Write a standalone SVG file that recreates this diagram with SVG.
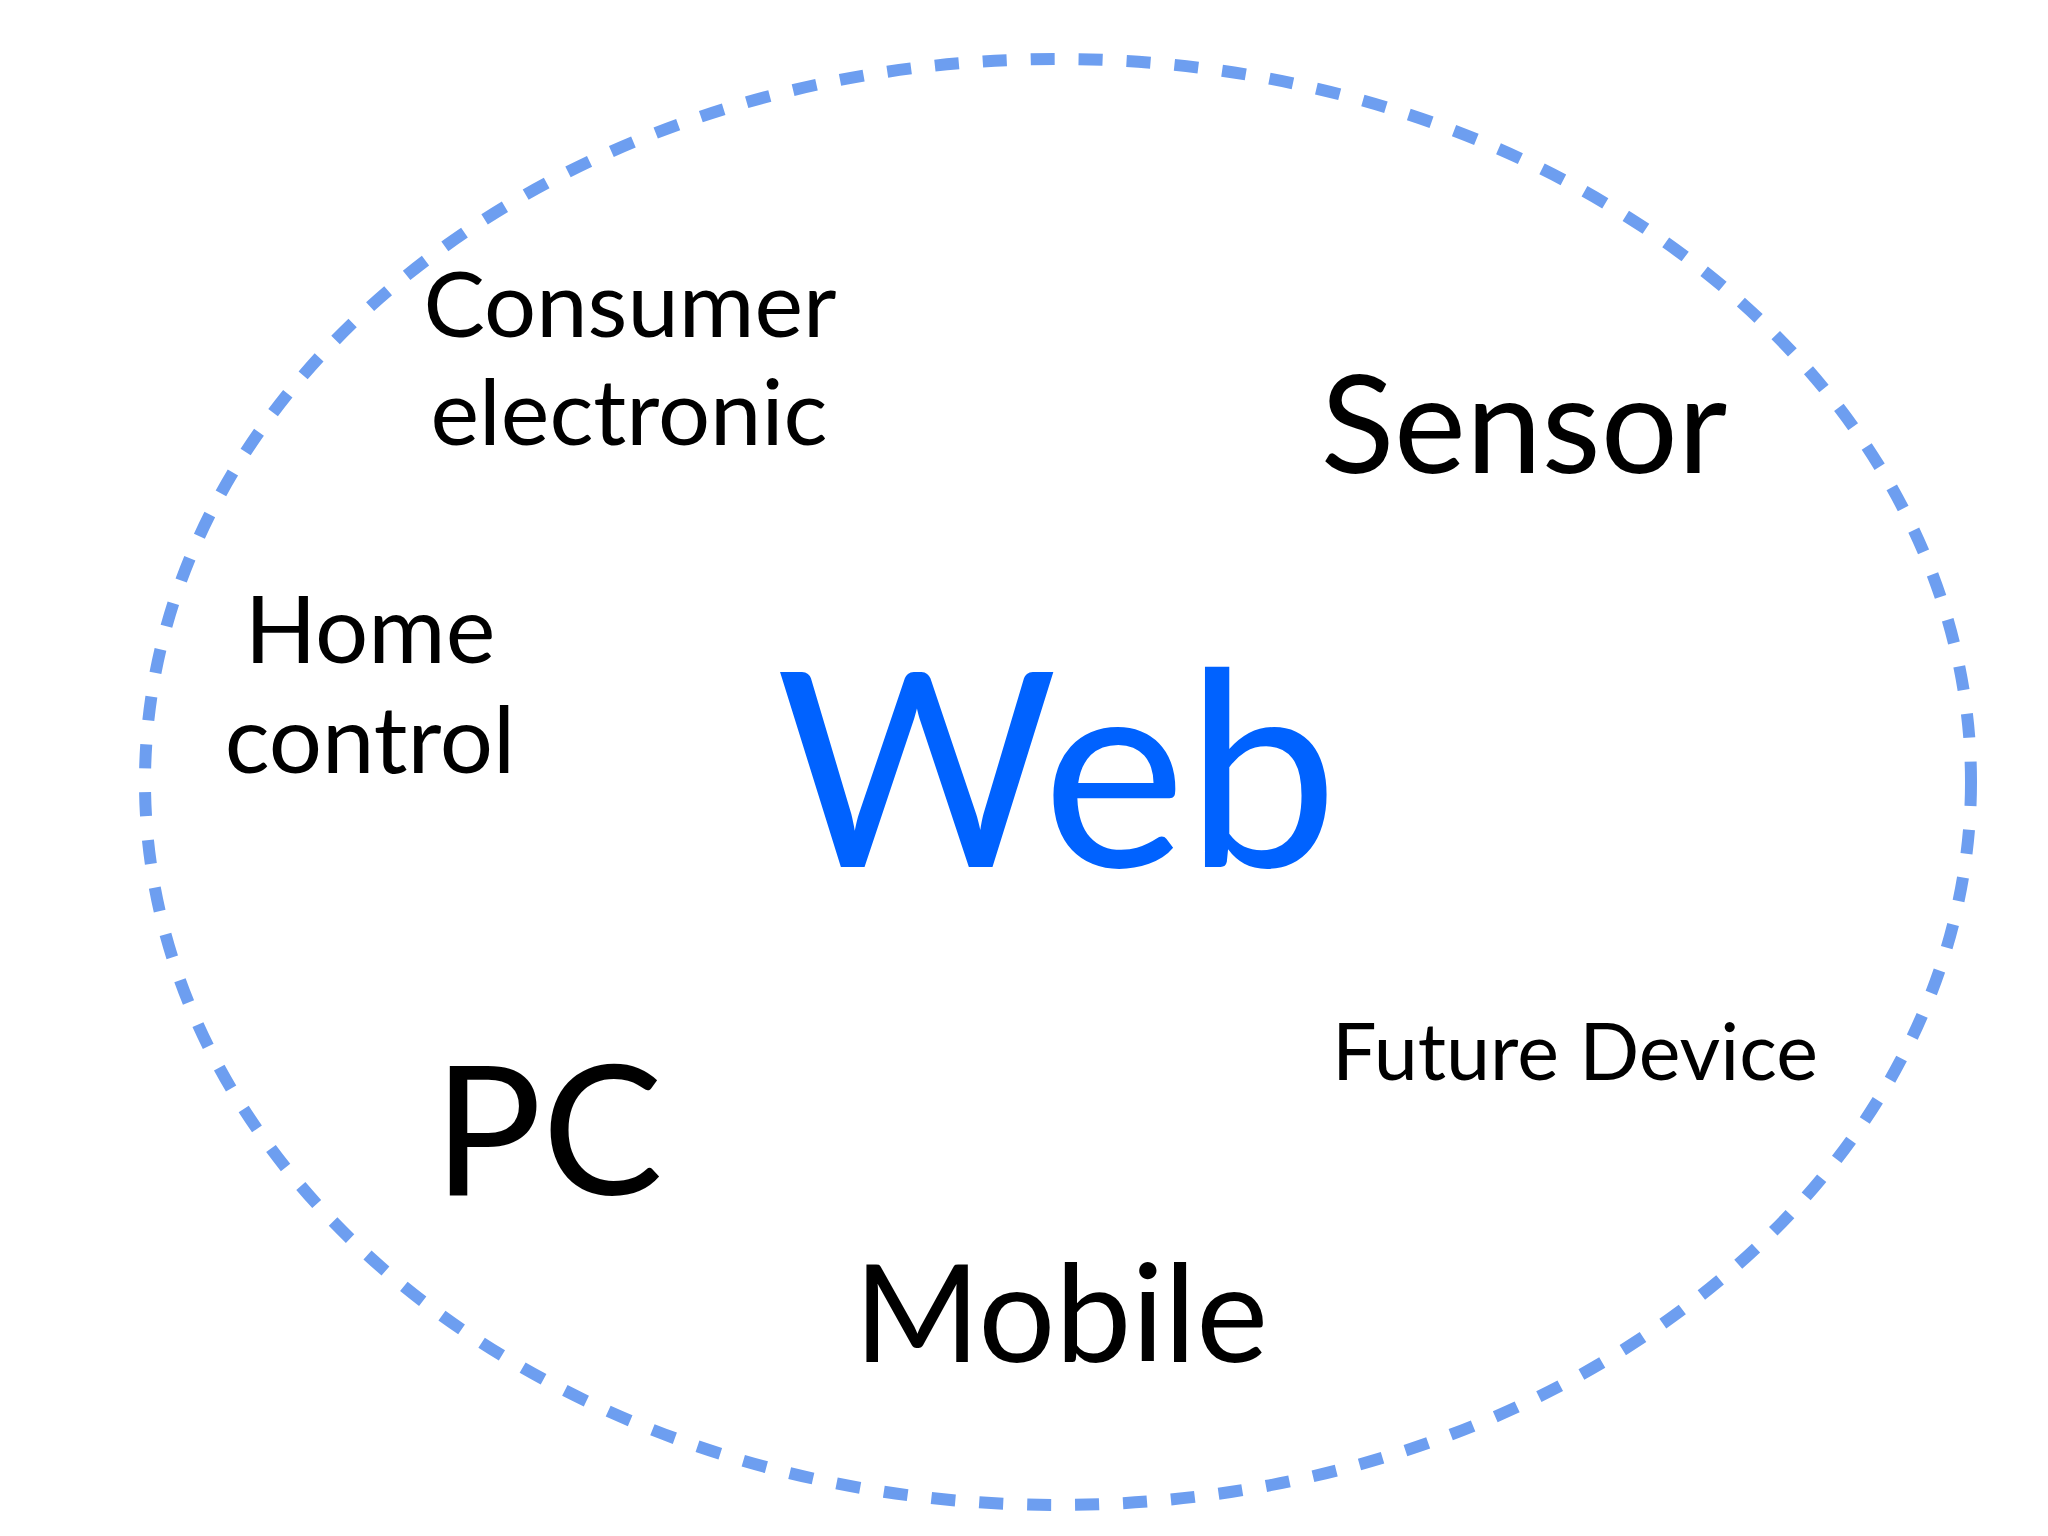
<svg xmlns="http://www.w3.org/2000/svg" width="2048" height="1536" viewBox="0 0 2048 1536">
<style>
.t{font-family:Lato,"Open Sans","Liberation Sans",sans-serif;fill:#000;text-anchor:middle}
.web{fill:#0062ff}
.ring{fill:none;stroke:#6d9ef0;stroke-width:12;stroke-dasharray:24 24}
</style>
<rect width="2048" height="1536" fill="#fff"/>
<g id="boundary"><ellipse class="ring" cx="1058" cy="782" rx="913" ry="723"/></g>
<g id="web"><text class="t web" x="1057" y="867" font-size="272">Web</text></g>
<g id="consumer-electronic"><text class="t" x="630" y="337" font-size="92">Consumer</text><text class="t" x="629" y="445" font-size="92">electronic</text></g>
<g id="sensor"><text class="t" x="1524" y="473" font-size="136">Sensor</text></g>
<g id="home-control"><text class="t" x="370" y="663" font-size="94">Home</text><text class="t" x="370" y="773" font-size="94">control</text></g>
<g id="pc"><text class="t" x="548" y="1195" font-size="181">PC</text></g>
<g id="mobile"><text class="t" x="1061" y="1362" font-size="136">Mobile</text></g>
<g id="future-device"><text class="t" x="1575" y="1080" font-size="79">Future Device</text></g>
</svg>
